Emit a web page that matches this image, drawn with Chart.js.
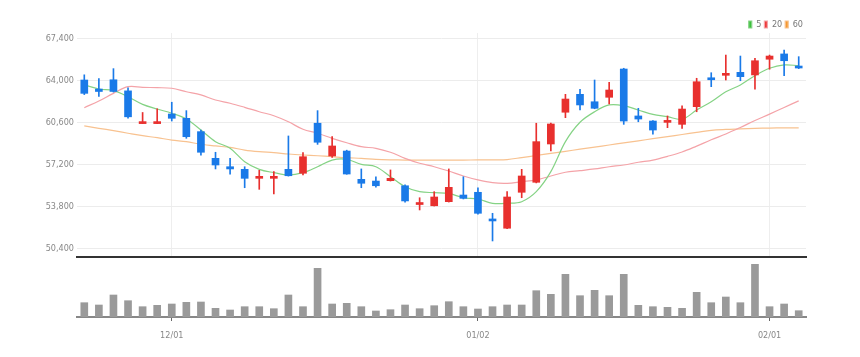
<!DOCTYPE html>
<html><head><meta charset="utf-8">
<script src="https://cdn.jsdelivr.net/npm/chart.js@4.4.0/dist/chart.umd.min.js"></script>
<style>
html,body{margin:0;padding:0;background:#fff;}
#wrap{position:relative;width:860px;height:357px;overflow:hidden;background:#fff;}
canvas{position:absolute;left:0;display:block;}
#c1{top:0;}
#c2{top:262px;}
</style></head><body>
<div id="wrap"><canvas id="c1" width="860" height="270"></canvas><canvas id="c2" width="860" height="95"></canvas></div>
<script>
const dates = ['11/23','11/24','11/25','11/28','11/29','11/30','12/01','12/02','12/05','12/06',
  '12/07','12/08','12/09','12/12','12/13','12/14','12/15','12/16','12/19','12/20',
  '12/21','12/22','12/23','12/26','12/27','12/28','12/29','01/02','01/03','01/04',
  '01/05','01/06','01/09','01/10','01/11','01/12','01/13','01/16','01/17','01/18',
  '01/19','01/20','01/25','01/26','01/27','01/30','01/31','02/01','02/02','02/03'];
const tickLabels = ['12/01','01/02','02/01'];
const yTicks = [50400, 53800, 57200, 60600, 64000, 67400];

const opens  = [64080,63350,64100,63200,60550,60550,61330,60980,59900,57740,
  57060,56850,56120,56120,56850,56530,60580,57930,58330,56040,
  55900,55930,55520,54000,53900,54230,54770,54990,52830,52080,
  54990,55800,58900,61470,62920,62320,62680,64970,61170,60760,
  60650,60490,61920,64200,64460,64700,64490,65760,66190,65160];
const highs  = [64500,64200,65000,63450,61450,61750,62280,61600,60030,58230,
  57740,57060,56770,56660,59550,58200,61600,59490,58400,56880,
  56250,56800,55600,54550,55040,56880,56250,55360,53290,55040,
  56850,60580,60600,62920,63330,64080,63890,65030,61790,60800,
  61170,61980,64220,64670,66100,66020,65840,66100,66510,65970];
const lows   = [62900,62750,63100,61000,60550,60550,60760,59360,58000,56880,
  56450,55360,55230,54850,56300,56390,58870,57820,56450,55360,
  55400,55900,54200,53560,53880,54200,54450,53210,51050,52050,
  54550,55750,58330,61030,61650,61750,62140,60490,60700,59690,
  60220,60170,61510,63540,64080,64020,63330,64950,64430,65000];
const closes = [63000,63150,63150,61100,60650,60650,60980,59490,58230,57200,
  56880,56120,56220,56220,56330,57870,59040,58740,56470,55720,
  55520,56120,54290,54080,54610,55390,54500,53290,52670,54610,
  56310,59090,60520,62540,62060,61790,63270,60760,60920,60030,
  60750,61730,63940,64100,64560,64350,65640,66020,65640,65050];

const ma5  = [63680,63350,63220,62730,62110,61730,61390,60920,60030,59090,
  58550,57470,56850,56580,56390,56580,57060,57600,57660,57250,
  57060,56250,55440,55040,54960,54900,54550,54450,54100,54100,
  54230,55040,56660,59090,60660,61510,62060,62000,61650,61300,
  61110,60900,61650,62320,63130,63680,64430,65030,65300,65240];
const ma20 = [61840,62380,63000,63540,63490,63460,63410,63130,62870,62460,
  62200,61870,61510,61190,60700,60090,59770,59360,59000,58680,
  58550,58230,57740,57340,57060,56710,56310,55990,55770,55720,
  55850,55990,56310,56610,56740,56880,57060,57200,57420,57600,
  57900,58250,58730,59240,59710,60240,60800,61320,61860,62390];
const ma60 = [60360,60170,59980,59770,59570,59410,59220,59090,58880,58740,
  58630,58410,58280,58200,58090,58010,57950,57870,57790,57740,
  57660,57620,57600,57600,57600,57600,57600,57610,57620,57640,
  57800,57970,58140,58310,58480,58650,58820,58990,59160,59330,
  59500,59670,59840,60010,60080,60120,60160,60190,60200,60200];

const volumes = [143000,120000,220000,163000,103000,117000,130000,147000,150000,87000,
  70000,103000,103000,83000,220000,103000,487000,130000,137000,103000,
  60000,73000,120000,83000,113000,153000,103000,80000,103000,120000,
  120000,263000,227000,427000,213000,267000,213000,427000,117000,103000,
  97000,87000,247000,143000,200000,143000,527000,103000,130000,63000];

const UP = '#e8302e', DOWN = '#1a7ae8';
const candleColors = closes.map((c, i) => c >= opens[i] ? UP : DOWN);

function pickFont() {
  const ctx = document.createElement('canvas').getContext('2d');
  const sample = '67,400 12/01';
  const cands = ['Liberation Sans Narrow', 'DejaVu Sans Condensed', 'Liberation Sans'];
  for (const f of cands) {
    ctx.font = '20px monospace'; const a = ctx.measureText(sample).width;
    ctx.font = "20px '" + f + "', monospace"; const b = ctx.measureText(sample).width;
    if (Math.abs(a - b) > 0.5) return "'" + f + "'";
  }
  return 'sans-serif';
}
const FONT = pickFont() + ', sans-serif';
Chart.defaults.font.family = FONT;
Chart.defaults.font.size = 9;
Chart.defaults.color = '#888';

const isMonthTick = (i) => tickLabels.includes(dates[i]);

new Chart(document.getElementById('c1'), {
  type: 'bar',
  data: {
    labels: dates,
    datasets: [
      {type: 'line', label: '5', data: ma5, borderColor: '#85d385', backgroundColor: '#3cc03c', borderWidth: 1.2, pointRadius: 0, tension: 0.35, order: 3},
      {type: 'line', label: '20', data: ma20, borderColor: '#f4a3a8', backgroundColor: '#ee3b3b', borderWidth: 1.2, pointRadius: 0, tension: 0.35, order: 3},
      {type: 'line', label: '60', data: ma60, borderColor: '#f8c290', backgroundColor: '#f5992f', borderWidth: 1.2, pointRadius: 0, tension: 0.35, order: 3},
      {label: 'wick', data: lows.map((l, i) => [l, highs[i]]), backgroundColor: candleColors, barThickness: 1, grouped: false, order: 1},
      {label: 'body', data: opens.map((o, i) => [o, closes[i]]), backgroundColor: candleColors, barThickness: 7, grouped: false, minBarLength: 2, order: 0}
    ]
  },
  options: {
    responsive: false, animation: false, events: [],
    layout: {padding: {left: 0, right: 54, top: 17, bottom: 0}},
    plugins: {
      legend: {display: true, position: 'top', align: 'end', maxHeight: 16,
        labels: {boxWidth: 3, boxHeight: 7, padding: 3, color: '#777', font: {size: 9},
          filter: (item) => item.datasetIndex < 3}},
      tooltip: {enabled: false}
    },
    scales: {
      x: {
        offset: true,
        grid: {offset: false, drawTicks: false, lineWidth: 1,
          color: (ctx) => (ctx.index !== undefined && isMonthTick(ctx.index)) ? '#eeeeee' : 'rgba(0,0,0,0)'},
        border: {display: true, color: '#333', width: 2},
        ticks: {display: false, autoSkip: false},
        afterFit: (s) => { s.height = 13; }
      },
      y: {
        min: 49752, max: 67885,
        afterBuildTicks: (s) => { s.ticks = yTicks.map(v => ({value: v})); },
        ticks: {padding: 3, color: '#888', font: {size: 9}, callback: (v) => v.toLocaleString('en-US')},
        grid: {color: '#ececec', drawTicks: false},
        border: {display: false},
        afterFit: (s) => { s.width = 77; }
      }
    }
  }
});

new Chart(document.getElementById('c2'), {
  type: 'bar',
  data: {labels: dates, datasets: [{label: 'vol', data: volumes, backgroundColor: '#9a9a9a', barThickness: 7}]},
  options: {
    responsive: false, animation: false, events: [],
    layout: {padding: {left: 0, right: 54, top: 0, bottom: 0}},
    plugins: {legend: {display: false}, tooltip: {enabled: false}},
    scales: {
      x: {
        offset: true,
        grid: {offset: false, drawOnChartArea: false, drawTicks: true, tickLength: 4,
          tickColor: (ctx) => (ctx.index !== undefined && isMonthTick(ctx.index)) ? '#666' : 'rgba(0,0,0,0)',
          color: 'rgba(0,0,0,0)'},
        border: {display: true, color: '#888', width: 2},
        ticks: {autoSkip: false, maxRotation: 0, minRotation: 0, padding: 9, color: '#888', font: {size: 9},
          callback: (v, i) => isMonthTick(i) ? dates[i] : ''},
        afterFit: (s) => { s.height = 40; }
      },
      y: {
        min: 0, max: 550000, display: true,
        ticks: {display: false}, grid: {display: false}, border: {display: false},
        afterFit: (s) => { s.width = 77; }
      }
    }
  }
});
</script>
</body></html>
